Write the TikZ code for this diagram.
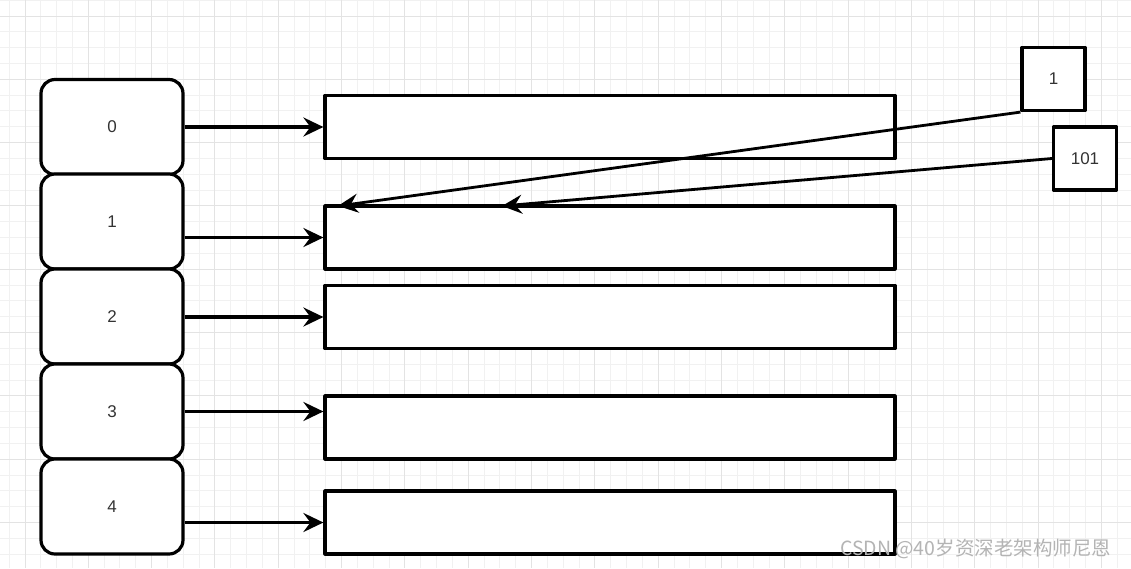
\documentclass[tikz,border=0pt]{standalone}
\usepackage{fontspec}
\setmainfont{Liberation Sans}
\newfontfamily\cjk{Noto Sans CJK SC}
\usetikzlibrary{arrows.meta}
\definecolor{gridminor}{HTML}{F1F1F1}
\definecolor{gridmajor}{HTML}{E3E3E3}
\definecolor{marktext}{HTML}{B4B4B4}
\tikzset{
  cell/.style={draw, rounded corners=14, fill=white, minimum width=142, minimum height=95, inner sep=0, font=\fontsize{17}{20}\selectfont, text=black!80},
  slot/.style={draw, fill=white, minimum width=570, minimum height=63, inner sep=0},
  keybox/.style={draw, fill=white, minimum width=63, minimum height=63, inner sep=0, font=\fontsize{17}{20}\selectfont, text=black!80},
  link/.style={-{Stealth[length=20pt 0,width=19pt 0,inset=7pt 0]}}
}
\begin{document}
\begin{tikzpicture}[x=1pt, y=-1pt, line join=round, line width=3.2pt]
	\useasboundingbox (0,0) rectangle (1131,568);
	\fill[white] (0,0) rectangle (1131,568);
	% grid
	\foreach \i in {-1,...,70} \draw[gridminor, line width=1pt] ({25+15.83*\i},0) -- ({25+15.83*\i},568);
	\foreach \i in {-1,...,35} \draw[gridminor, line width=1pt] (0,{16+15.83*\i}) -- (1131,{16+15.83*\i});
	\foreach \i in {0,...,17} \draw[gridmajor, line width=1pt] ({25+63.32*\i},0) -- ({25+63.32*\i},568);
	\foreach \i in {0,...,8} \draw[gridmajor, line width=1pt] (0,{16+63.32*\i}) -- (1131,{16+63.32*\i});
	% buckets
	\node[cell] (cell0) at (112,127) {0};
	\node[cell] (cell1) at (112,221.5) {1};
	\node[cell] (cell2) at (112,316.5) {2};
	\node[cell] (cell3) at (112,411.5) {3};
	\node[cell] (cell4) at (112,506.5) {4};
	% lists
	\node[slot] (slot0) at (610,127) {};
	\node[slot] (slot1) at (610,237.5) {};
	\node[slot] (slot2) at (610,317) {};
	\node[slot] (slot3) at (610,427.5) {};
	\node[slot] (slot4) at (610,522.5) {};
	\draw[link] (cell0.east) -- (slot0.west);
	\draw[link] (cell1.east |- slot1.west) -- (slot1.west);
	\draw[link] (cell2.east |- slot2.west) -- (slot2.west);
	\draw[link] (cell3.east) -- (cell3.east -| slot3.west);
	\draw[link] (cell4.east |- slot4.west) -- (slot4.west);
	% keys
	\node[keybox] (key1) at (1053.5,79) {1};
	\node[keybox] (key2) at (1085,158.5) {101};
	\coordinate (hit1) at (338,206);
	\coordinate (hit2) at (502,206);
	\draw[link, line width=2.8pt] (key1.south west) -- (hit1);
	\draw[link, line width=2.8pt] (key2.west) -- (hit2);
	\node[text=marktext, font=\cjk\fontsize{19.5}{22}\selectfont, anchor=east] (mark) at (1116,549) {CSDN @40岁资深老架构师尼恩};
\end{tikzpicture}
\end{document}
